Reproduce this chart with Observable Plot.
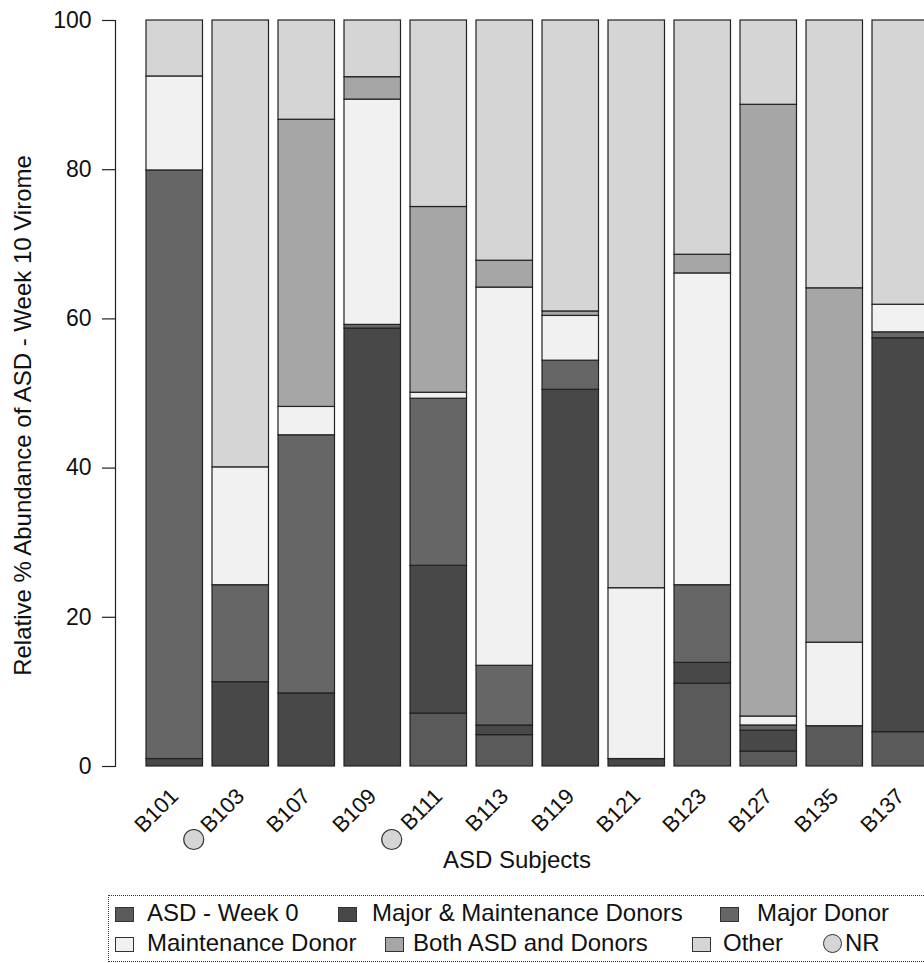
<!DOCTYPE html>
<html>
<head>
<meta charset="utf-8">
<script src="https://cdn.jsdelivr.net/npm/d3@7"></script>
<script src="https://cdn.jsdelivr.net/npm/@observablehq/plot@0.6"></script>
<style>
  html, body { margin: 0; padding: 0; background: #fff; overflow: hidden; width: 924px; height: 963px; }
  #wrap { position: relative; width: 924px; height: 963px; font-family: "Liberation Sans", Arial, sans-serif; color: #111; }
  #chart svg { display: block; }
  #legend { position: absolute; left: 108px; top: 895px; width: 900px; height: 65px; border: 1px dotted #333; }
  .lt { position: absolute; font-size: 24px; line-height: 24px; white-space: nowrap; }
  .sw { position: absolute; width: 19px; height: 15px; box-sizing: border-box; border: 1px solid #333; }
  .nr { position: absolute; width: 19px; height: 19px; box-sizing: border-box; border: 1px solid #333; border-radius: 50%; }
</style>
</head>
<body>
<div id="wrap">
  <div id="chart"></div>
  <div id="legend"></div>
  <div id="items"></div>
</div>
<script>
// ---- data ----
const subjects = ["B101","B103","B107","B109","B111","B113","B119","B121","B123","B127","B135","B137"];
const nrSubjects = ["B103","B111"];
const categories = ["ASD - Week 0","Major & Maintenance Donors","Major Donor","Maintenance Donor","Both ASD and Donors","Other"];
const asdWeek0         = [0,    0,    0,    0,    7.1,  4.2,  0,    0,    11.1, 2.0,  5.4,  4.6];
const majorMaintenance = [1.0,  11.3, 9.8,  58.7, 19.8, 1.3,  50.5, 1.0,  2.8,  2.8,  0,    52.8];
const majorDonor       = [78.9, 13.0, 34.6, 0.5,  22.4, 8.0,  3.9,  0,    10.4, 0.7,  0,    0.8];
const maintenanceDonor = [12.6, 15.8, 3.8,  30.2, 0.8,  50.7, 6.0,  22.9, 41.8, 1.2,  11.2, 3.7];
const bothAsdDonors    = [0,    0,    38.5, 3.0,  24.9, 3.6,  0.6,  0,    2.5,  82.0, 47.5, 0];
const other            = [7.5,  59.9, 13.3, 7.6,  25.0, 32.2, 39.0, 76.1, 31.4, 11.3, 35.9, 38.1];
const yTicks = [0, 20, 40, 60, 80, 100];
const yTitle = "Relative % Abundance of ASD - Week 10 Virome";
const xTitle = "ASD Subjects";

// ---- styles ----
const grays = ["#5a5a5a", "#484848", "#666666", "#f1f1f1", "#a6a6a6", "#d5d5d5"];
const font = '"Liberation Sans", Arial, sans-serif';

const series = [asdWeek0, majorMaintenance, majorDonor, maintenanceDonor, bothAsdDonors, other];
const table = [];
subjects.forEach((s, i) => {
  categories.forEach((c, k) => {
    const v = series[k][i];
    if (v > 0) table.push({subject: s, category: c, value: v});
  });
});

const W = 924, H = 893;
const chart = Plot.plot({
  width: W,
  height: H,
  marginLeft: 115,
  marginRight: 0,
  marginTop: 20,
  marginBottom: 127,
  style: {fontFamily: font, background: "#fff", color: "#111"},
  x: {type: "band", domain: subjects, range: [141.25, 933.25], paddingInner: 0.144, paddingOuter: 0.072, align: 0.5, round: false, axis: null},
  y: {domain: [0, 100], range: [766, 20], axis: null},
  color: {domain: categories, range: grays},
  marks: [
    Plot.barY(table, {x: "subject", y: "value", fill: "category", stroke: "#222", strokeWidth: 1.2, order: categories}),
    Plot.frame({anchor: "left", stroke: "#222", strokeWidth: 1.2}),
    Plot.axisY({ticks: yTicks, tickSize: 13, tickPadding: 11, fontSize: 23, label: null, stroke: "#222", strokeWidth: 1.2}),
    Plot.axisX({tickRotate: -45, tickSize: 0, tickPadding: 26, fontSize: 22, label: null}),
    Plot.dot(nrSubjects, {x: d => d, frameAnchor: "bottom", dx: -47, dy: 73, r: 10, fill: "#d5d5d5", stroke: "#333", strokeWidth: 1.2}),
    Plot.text([yTitle], {frameAnchor: "left", textAnchor: "middle", lineAnchor: "middle", rotate: -90, dx: -92, dy: 22, fontSize: 24}),
    Plot.text([xTitle], {frameAnchor: "bottom", textAnchor: "middle", dx: -3, dy: 101, fontSize: 24})
  ]
});
document.getElementById("chart").appendChild(chart);

// ---- legend ----
const legendItems = [
  {label: categories[0], fill: grays[0], sx: 115, tx: 147, row: 0},
  {label: categories[1], fill: grays[1], sx: 338, tx: 372, row: 0},
  {label: categories[2], fill: grays[2], sx: 720, tx: 757, row: 0},
  {label: categories[3], fill: grays[3], sx: 115, tx: 147, row: 1},
  {label: categories[4], fill: grays[4], sx: 385, tx: 413, row: 1},
  {label: categories[5], fill: grays[5], sx: 692, tx: 723, row: 1},
  {label: "NR", fill: "#d5d5d5", sx: 823, tx: 845, row: 1, circle: true}
];
const baselines = [921.5, 951.5];
const items = document.getElementById("items");
legendItems.forEach(it => {
  const b = baselines[it.row];
  const sw = document.createElement("div");
  sw.className = it.circle ? "nr" : "sw";
  sw.style.left = it.sx + "px";
  sw.style.top = (it.circle ? b - 18 : b - 15) + "px";
  sw.style.background = it.fill;
  items.appendChild(sw);
  const t = document.createElement("div");
  t.className = "lt";
  t.style.left = it.tx + "px";
  t.style.top = (b - 20.3) + "px";
  t.textContent = it.label;
  items.appendChild(t);
});
</script>
</body>
</html>
